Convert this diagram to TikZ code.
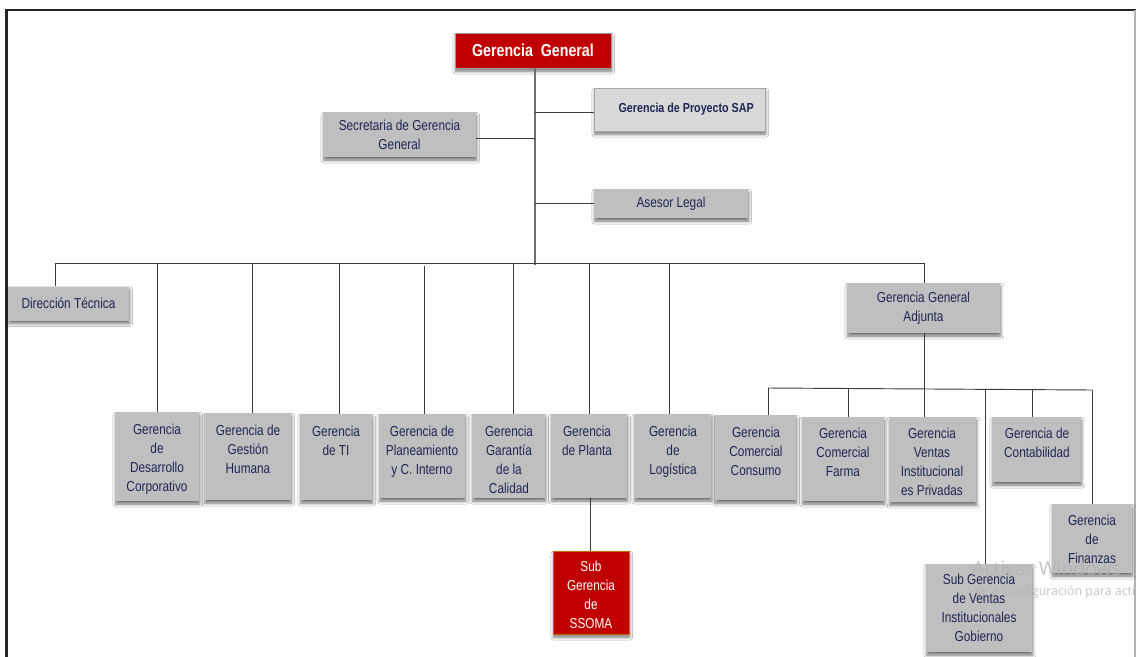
\documentclass[tikz,border=0pt]{standalone}
\usepackage{fontspec}
\setmainfont{Liberation Sans}
\newfontfamily\narrowsf{Liberation Sans}[FakeStretch=0.82]
\newfontfamily\uisf{Open Sans}
\usetikzlibrary{shadows.blur,calc}

\definecolor{boxgray}{RGB}{191,191,191}
\definecolor{lightbox}{RGB}{217,217,217}
\definecolor{orgred}{RGB}{192,0,0}
\definecolor{ink}{RGB}{28,38,84}
\definecolor{wire}{RGB}{60,60,60}
\definecolor{trunk}{RGB}{110,110,110}

\tikzset{
  soft shade/.style={blur shadow={shadow xshift=0.6pt, shadow yshift=-2.4pt,
      shadow blur radius=2.2pt, shadow blur steps=6, shadow opacity=55}},
  graybox/.style={soft shade, rectangle, fill=boxgray, inner sep=0pt},
  lightgraybox/.style={soft shade, rectangle, fill=lightbox, draw=black!35,
      line width=0.4pt, inner sep=0pt},
  redbox/.style={soft shade, rectangle, fill=orgred, draw=black!40,
      line width=0.4pt, inner sep=0pt},
  redsubbox/.style={soft shade, rectangle, fill=orgred, draw=orange!80!black,
      line width=0.5pt, inner sep=0pt},
  boxfont/.style={font=\narrowsf\fontsize{10.8}{14.25}\selectfont},
  caption/.style={boxfont, text=ink, align=center, inner sep=0pt},
  link/.style={draw=wire, line width=0.7pt},
  mainlink/.style={draw=trunk, line width=1pt},
}

% box from pixel corners: style, name, left, top, right, bottom
\newcommand\unitbox[6]{%
  \node[#1, minimum width={(#5-#3)*0.75pt}, minimum height={(#6-#4)*0.75pt}]
    (#2) at ({(#3+#5)/2},{(#4+#6)/2}) {};}
% top aligned caption: name, centre x, top y, lines
\newcommand\toptext[4]{%
  \node[caption, anchor=north] (#1) at (#2,#3) {\rule{0pt}{9pt}#4};}

\begin{document}
\begin{tikzpicture}[x=0.75pt, y=-0.75pt]
\useasboundingbox (0,0) rectangle (1136,657);
\fill[white] (0,0) rectangle (1136,657);

% page frame
\draw[black!85, line width=1.6pt] (6.5,657) -- (6.5,10) -- (1136,10);
\draw[black!30, line width=0.8pt] (1135,10) -- (1135,657);

% ---------- top level ----------
\node[redbox, minimum width={156*0.75pt}, minimum height={35*0.75pt},
      font=\narrowsf\bfseries\fontsize{13}{15}\selectfont, text=white]
  (gg) at (533,50.5) {Gerencia\ \ General};

\node[lightgraybox, minimum width={171*0.75pt}, minimum height={43*0.75pt},
      font=\narrowsf\bfseries\fontsize{9.8}{12}\selectfont, text=ink]
  (sap) at (679.5,109.5) {\hspace*{10pt}Gerencia de Proyecto SAP};

\node[graybox, minimum width={153*0.75pt}, minimum height={45*0.75pt},
      caption] (sec) at (399.5,134.5) {Secretaria de Gerencia\\General};

\node[graybox, minimum width={154*0.75pt}, minimum height={29*0.75pt},
      caption] (legal) at (671,203.5) {Asesor Legal};

\node[graybox, minimum width={121*0.75pt}, minimum height={34*0.75pt},
      caption] (dt) at (68.5,303.5) {Dirección Técnica};

\node[graybox, minimum width={153*0.75pt}, minimum height={50*0.75pt},
      caption] (gga) at (923.5,308) {Gerencia General\\Adjunta};

% ---------- second row ----------
\unitbox{graybox}{dc}{115}{412}{199}{501}
\toptext{dc-t}{157}{422}{Gerencia\\de\\Desarrollo\\Corporativo}
\unitbox{graybox}{gh}{204}{413}{291}{500}
\toptext{gh-t}{248}{423}{Gerencia de\\Gestión\\Humana}
\unitbox{graybox}{ti}{300}{414}{372}{500}
\toptext{ti-t}{336}{424}{Gerencia\\de TI}
\unitbox{graybox}{pl}{379}{414}{465}{498}
\toptext{pl-t}{422}{424}{Gerencia de\\Planeamiento\\y C. Interno}
\unitbox{graybox}{gc}{472}{414}{545}{498}
\toptext{gc-t}{509}{424}{Gerencia\\Garantía\\de la\\Calidad}
\unitbox{graybox}{gp}{551}{414}{627}{498}
\toptext{gp-t}{587}{424}{Gerencia\\de Planta}
\unitbox{graybox}{lg}{634}{414}{711}{498}
\toptext{lg-t}{673}{424}{Gerencia\\de\\Logística}
\unitbox{graybox}{cc}{715}{415}{796}{500}
\toptext{cc-t}{756}{425}{Gerencia\\Comercial\\Consumo}
\unitbox{graybox}{cf}{802}{417}{884}{501}
\toptext{cf-t}{843}{426}{Gerencia\\Comercial\\Farma}
\unitbox{graybox}{vp}{889}{417}{976}{502}
\toptext{vp-t}{932}{426}{Gerencia\\Ventas\\Institucional\\es Privadas}
\unitbox{graybox}{ct}{992}{417}{1081}{482}
\toptext{ct-t}{1037}{426}{Gerencia de\\Contabilidad}
\unitbox{graybox}{fz}{1052}{504}{1132}{573}
\toptext{fz-t}{1092}{513}{Gerencia\\de\\Finanzas}
\unitbox{graybox}{sv}{926}{564}{1032}{652}
\toptext{sv-t}{979}{572}{Sub Gerencia\\de Ventas\\Institucionales\\Gobierno}
\unitbox{redsubbox}{ss}{553}{551}{629}{634}
\node[caption, anchor=north, text=white] (ss-t) at (591,559)
  {\rule{0pt}{9pt}Sub\\Gerencia\\de\\SSOMA};

% ---------- connectors ----------
\coordinate (tSap) at (535,112);
\coordinate (tSec) at (535,138);
\coordinate (tLegal) at (535,203);
\coordinate (tBus) at (535,265);
\draw[mainlink] (gg.south -| tBus) -- (tBus);
\draw[link] (tSap) -- (tSap -| sap.west);
\draw[link] (tSec) -- (tSec -| sec.east);
\draw[link] (tLegal) -- (tLegal -| legal.west);

% main bus
\coordinate (bDt) at (55,263);
\coordinate (bDc) at (157,263);
\coordinate (bGh) at (252,263);
\coordinate (bTi) at (339,263);
\coordinate (bPl) at (424,266);
\coordinate (bGc) at (513,263);
\coordinate (bGp) at (589,263);
\coordinate (bLg) at (669,264);
\coordinate (bGga) at (924,263);
\draw[link] (bDt) -- (bGga);
\draw[link] (bDt) -- (bDt |- dt.north);
\draw[link] (bDc) -- (bDc |- dc.north);
\draw[link] (bGh) -- (bGh |- gh.north);
\draw[link] (bTi) -- (bTi |- ti.north);
\draw[link] (bPl) -- (bPl |- pl.north);
\draw[link] (bGc) -- (bGc |- gc.north);
\draw[link] (bGp) -- (bGp |- gp.north);
\draw[link] (bLg) -- (bLg |- lg.north);
\draw[link] (bGga) -- (bGga |- gga.north);

% planta to SSOMA
\coordinate (pS) at (590,498);
\draw[link] (pS) -- (pS |- ss.north);

% adjunta bus
\coordinate (aTop) at (924,333);
\coordinate (aCc) at (768,388);
\coordinate (aCf) at (848,388);
\coordinate (aSv) at (985,389);
\coordinate (aCt) at (1032,390);
\coordinate (aFz) at (1092,390);
\draw[link] (aTop) -- (aTop |- vp.north);
\draw[link] (aCc) -- (aFz);
\draw[link] (aCc) -- (aCc |- cc.north);
\draw[link] (aCf) -- (aCf |- cf.north);
\draw[link] (aSv) -- (aSv |- sv.north);
\draw[link] (aCt) -- (aCt |- ct.north);
\draw[link] (aFz) -- (aFz |- fz.north);

% system watermark over the lower right corner
\begin{scope}
\clip (0,0) rectangle (1136,657);
\node[anchor=west, inner sep=0pt, text=black!30, opacity=0.75,
      font=\uisf\fontsize{14.5}{16}\selectfont] (wm1) at (972,568) {Activar Windows};
\node[anchor=west, inner sep=0pt, text=black!30, opacity=0.75,
      font=\uisf\fontsize{9.3}{11}\selectfont] (wm2) at (974,592)
  {Ve a Configuración para activar Windows.};
\end{scope}
\end{tikzpicture}
\end{document}
